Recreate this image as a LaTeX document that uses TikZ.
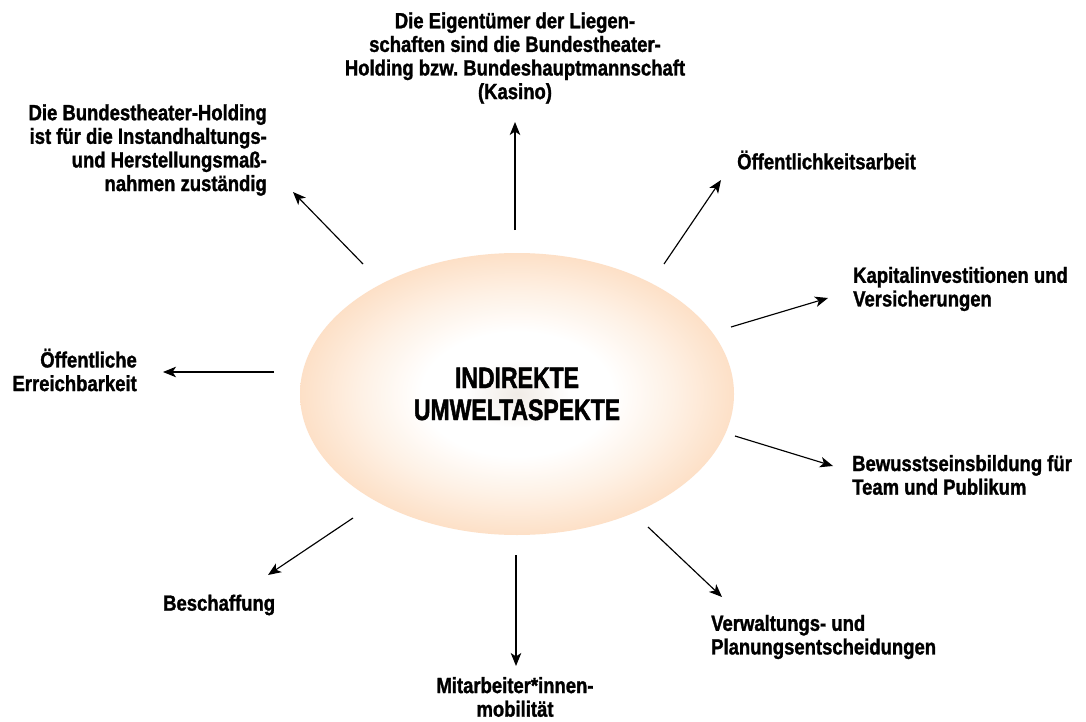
\documentclass[tikz,border=0pt]{standalone}
\usepackage{fontspec}
\setmainfont[FakeStretch=0.84, BoldFeatures={FakeBold=1.3}]{Liberation Sans}
\newfontfamily\centerfont[FakeStretch=0.78, BoldFeatures={FakeBold=1.5}]{Liberation Sans}
\usetikzlibrary{arrows.meta,shapes.geometric}
\definecolor{peach}{RGB}{253,224,199}
\definecolor{peachmid}{RGB}{254,241,229}
\definecolor{blobc}{RGB}{240,235,230}
\definecolor{blobm}{RGB}{248,245,242}
\pgfdeclareradialshading{ellshade}{\pgfpoint{0bp}{0bp}}{%
  color(0bp)=(blobc); color(3bp)=(blobm); color(6bp)=(white);
  color(11bp)=(white); color(18bp)=(peachmid); color(25bp)=(peach); color(50bp)=(peach)}
\tikzset{
  lab/.style={font=\bfseries\fontsize{22}{23.6}\selectfont, inner sep=0pt, text=black},
  arr/.style={-{Stealth[length=13pt,width=10.5pt,inset=3.5pt]}, line width=1.15pt, black},
}
\frenchspacing
\begin{document}
\begin{tikzpicture}[x=1pt,y=-1pt]
\useasboundingbox (0,0) rectangle (1086,722);
\fill[white] (0,0) rectangle (1086,722);

\node[ellipse, minimum width=434pt, minimum height=282pt, inner sep=0pt,
      shade, shading=ellshade, align=center,
      font=\centerfont\bfseries\fontsize{29.5}{32}\selectfont] (core) at (517,394)
  {INDIREKTE\\UMWELTASPEKTE};

% labels
\node[lab, align=center] (top) at (515,58)
  {Die Eigentümer der Liegen-\\schaften sind die Bundestheater-\\Holding bzw. Bundeshauptmannschaft\\(Kasino)};
\node[lab, align=right, anchor=east] (ul) at (267,150)
  {Die Bundestheater-Holding\\ist für die Instandhaltungs-\\und Herstellungsmaß-\\nahmen zuständig};
\node[lab, align=right, anchor=east] (oe) at (137,370)
  {Öffentliche\\Erreichbarkeit};
\node[lab, anchor=west] (pr) at (737,160) {Öffentlichkeitsarbeit};
\node[lab, align=left, anchor=west] (kap) at (853,289)
  {Kapitalinvestitionen und\\Versicherungen};
\node[lab, align=left, anchor=west] (bew) at (852,475)
  {Bewusstseinsbildung für\\Team und Publikum};
\node[lab, align=left, anchor=west] (ver) at (711,637)
  {Verwaltungs- und\\Planungsentscheidungen};
\node[lab, align=center] (mit) at (515,697)
  {Mitarbeiter*innen-\\mobilität};
\node[lab, anchor=west] (bes) at (163,605) {Beschaffung};

% arrow end points
\coordinate (s1) at (515,230); \coordinate (e1) at (515,122);
\coordinate (s2) at (363,264); \coordinate (e2) at (293,192);
\coordinate (s3) at (664,264); \coordinate (e3) at (721,180);
\coordinate (s4) at (731,327); \coordinate (e4) at (828,298);
\coordinate (s5) at (735,436); \coordinate (e5) at (833,466);
\coordinate (s6) at (648,527); \coordinate (e6) at (722,597);
\coordinate (s7) at (516,555); \coordinate (e7) at (516,666);
\coordinate (s8) at (353,518); \coordinate (e8) at (268,575);
\coordinate (s9) at (274,372); \coordinate (e9) at (163,372);

\foreach \i in {1,...,9} \draw[arr] (s\i) -- (e\i);
\end{tikzpicture}
\end{document}
